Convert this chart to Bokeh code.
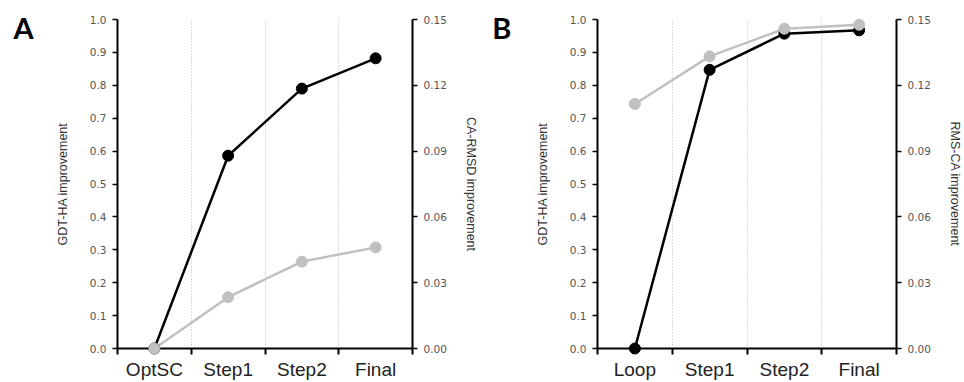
from bokeh.plotting import figure
from bokeh.layouts import row
from bokeh.models import Range1d, LinearAxis, FixedTicker
from bokeh.core.properties import value
from bokeh.embed import file_html
from bokeh.resources import INLINE

# ---- data ----
cats_a = ["OptSC", "Step1", "Step2", "Final"]
gdt_a = [0.0, 0.586, 0.790, 0.882]
rmsd_a = [0.0, 0.0234, 0.0396, 0.0461]

cats_b = ["Loop", "Step1", "Step2", "Final"]
gdt_b = [0.0, 0.847, 0.957, 0.967]
rmsd_b = [0.1115, 0.1332, 0.1458, 0.1476]

left_ticks = [0.0, 0.1, 0.2, 0.3, 0.4, 0.5, 0.6, 0.7, 0.8, 0.9, 1.0]
right_ticks = [0.0, 0.03, 0.06, 0.09, 0.12, 0.15]

BLACK = "#000000"
GREY = "#c0c0c0"
TICK_COLOR = "#555555"

FRAME_L, FRAME_R, FRAME_T, FRAME_B = 117, 418, 19, 350


def panel(cats, gdt, rmsd, letter, right_label, width):
    n = len(cats)
    xs = [i + 0.5 for i in range(n)]
    p = figure(width=width, height=382, output_backend="svg", toolbar_location=None,
               x_range=Range1d(0, n), y_range=Range1d(0, 1.0),
               min_border_left=FRAME_L, min_border_right=width - FRAME_R,
               min_border_top=FRAME_T, min_border_bottom=382 - FRAME_B,
               y_axis_location=None, x_axis_location=None)
    p.outline_line_color = None
    p.background_fill_color = "white"
    p.border_fill_color = "white"
    p.extra_y_ranges = {"r": Range1d(0, 0.15),
                        "px": Range1d(FRAME_B, FRAME_T)}
    p.extra_x_ranges = {"px": Range1d(FRAME_L, FRAME_R)}

    # x axis (labels at category centres, ticks at boundaries)
    xa = LinearAxis(ticker=FixedTicker(ticks=xs, minor_ticks=list(range(n + 1))))
    xa.major_label_overrides = {x: c for x, c in zip(xs, cats)}
    xa.major_tick_out = 0
    xa.major_tick_in = 0
    xa.minor_tick_out = 6
    xa.minor_tick_in = 0
    xa.minor_tick_line_width = 2
    xa.minor_tick_line_color = BLACK
    xa.axis_line_width = 2
    xa.axis_line_color = BLACK
    xa.major_label_text_font = "Liberation Sans"
    xa.major_label_text_font_size = "19px"
    xa.major_label_text_color = "#222222"
    xa.major_label_standoff = 4
    p.add_layout(xa, "below")

    # left axis
    ya = LinearAxis(ticker=FixedTicker(ticks=left_ticks), axis_label="GDT-HA improvement")
    ya.minor_tick_out = 0
    ya.minor_tick_in = 0
    ya.major_tick_out = 5
    ya.major_tick_in = 0
    ya.major_tick_line_width = 1.5
    ya.axis_line_width = 2
    ya.major_label_text_font = "DejaVu Sans"
    ya.major_label_text_font_size = "10.5px"
    ya.major_label_text_color = TICK_COLOR
    ya.major_label_standoff = 6
    ya.major_label_overrides = {t: f"{t:.1f}" for t in left_ticks}
    ya.axis_label_text_font = "Liberation Sans"
    ya.axis_label_text_font_size = "12.5px"
    ya.axis_label_text_font_style = "normal"
    ya.axis_label_text_color = "#333333"
    ya.axis_label_standoff = 17
    p.add_layout(ya, "left")

    # right axis
    ra = LinearAxis(y_range_name="r", ticker=FixedTicker(ticks=right_ticks), axis_label=right_label)
    ra.minor_tick_out = 0
    ra.minor_tick_in = 0
    ra.major_tick_out = 5
    ra.major_tick_in = 0
    ra.major_tick_line_width = 1.5
    ra.axis_line_width = 2
    ra.major_label_text_font = "DejaVu Sans"
    ra.major_label_text_font_size = "10.5px"
    ra.major_label_text_color = TICK_COLOR
    ra.major_label_standoff = 6
    ra.major_label_overrides = {t: f"{t:.2f}" for t in right_ticks}
    ra.axis_label_text_font = "Liberation Sans"
    ra.axis_label_text_font_size = "12.5px"
    ra.axis_label_text_font_style = "normal"
    ra.axis_label_text_color = "#333333"
    ra.axis_label_standoff = 14
    p.add_layout(ra, "right")

    # grid: dotted at category boundaries
    p.xgrid.ticker = xa.ticker
    p.xgrid.grid_line_color = None
    p.xgrid.minor_grid_line_color = "#b8b8b8"
    p.xgrid.minor_grid_line_dash = "1 2"
    p.xgrid.minor_grid_line_width = 1
    p.ygrid.grid_line_color = None

    # series
    p.line(xs, gdt, line_color=BLACK, line_width=2.5)
    p.scatter(xs, gdt, size=11, fill_color=BLACK, line_color=BLACK, level="overlay")
    p.line(xs, rmsd, y_range_name="r", line_color=GREY, line_width=2.5)
    p.scatter(xs, rmsd, y_range_name="r", size=11, fill_color=GREY, line_color=GREY,
              level="overlay")

    # panel letter, placed in canvas-pixel coordinates via the "px" ranges
    p.text(x=[11], y=[27], text=[letter], x_range_name="px", y_range_name="px",
           text_font=value("Lato"), text_font_style="bold", text_font_size="29px",
           text_color=BLACK, text_baseline="alphabetic", text_align="left",
           level="overlay")
    return p


pa = panel(cats_a, gdt_a, rmsd_a, "A", "CA-RMSD improvement", 480)
pb = panel(cats_b, gdt_b, rmsd_b, "B", "RMS-CA improvement", 484)
layout = row(pa, pb, spacing=0)

open("out.html", "w").write(file_html(layout, INLINE))
